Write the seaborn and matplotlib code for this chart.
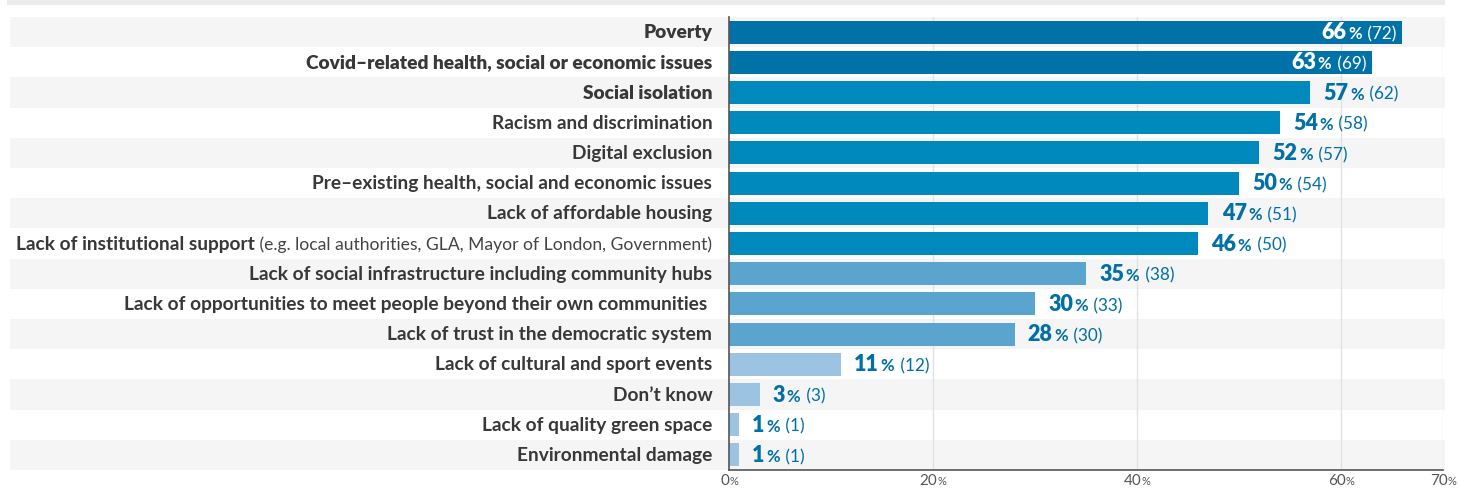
import matplotlib
matplotlib.use("Agg")
import matplotlib.pyplot as plt
import matplotlib.transforms as mtransforms
from matplotlib.patches import Rectangle
from matplotlib.offsetbox import TextArea, HPacker, AnnotationBbox
import seaborn as sns
import pandas as pd

# ---- data -------------------------------------------------------------
issues_bold = [
    "Poverty",
    "Covid\u2013related health, social or economic issues",
    "Social isolation",
    "Racism and discrimination",
    "Digital exclusion",
    "Pre\u2013existing health, social and economic issues",
    "Lack of affordable housing",
    "Lack of institutional support",
    "Lack of social infrastructure including community hubs",
    "Lack of opportunities to meet people beyond their own communities ",
    "Lack of trust in the democratic system",
    "Lack of cultural and sport events",
    "Don\u2019t know",
    "Lack of quality green space",
    "Environmental damage",
]
issues_note = ["", "", "", "", "", "", "",
               " (e.g. local authorities, GLA, Mayor of London, Government)",
               "", "", "", "", "", "", ""]
percents = [66, 63, 57, 54, 52, 50, 47, 46, 35, 30, 28, 11, 3, 1, 1]
counts = [72, 69, 62, 58, 57, 54, 51, 50, 38, 33, 30, 12, 3, 1, 1]
tiers = ["a", "a", "b", "b", "b", "b", "b", "b", "c", "c", "c", "d", "d", "d", "d"]
x_ticks = [0, 20, 40, 60, 70]

palette = {"a": "#0072a8", "b": "#0089bc", "c": "#5aa5cf", "d": "#9cc4e2"}
TEXT_BLUE = "#0070a6"
LABEL_DARK = "#383838"

df = pd.DataFrame({
    "issue": [b + n for b, n in zip(issues_bold, issues_note)],
    "pct": percents,
    "tier": tiers,
})

# ---- figure -----------------------------------------------------------
FONT = "Lato"
plt.rcParams["font.family"] = [FONT, "DejaVu Sans"]

fig = plt.figure(figsize=(14.59, 4.88), dpi=100)
W, H = 1459, 488
ax = fig.add_axes([729 / W, 1 - 470 / H, (1443 - 729) / W, (470 - 17) / H])

# thin grey strip across the very top
fig.patches.append(Rectangle((7 / W, 1 - 5 / H), (1445 - 7) / W, 5 / H,
                             transform=fig.transFigure, facecolor="#ececec",
                             edgecolor="none", zorder=0))

n = len(percents)
# alternating row bands spanning the labels and the plot
band_tf = mtransforms.blended_transform_factory(fig.transFigure, ax.transData)
for i in range(0, n, 2):
    ax.add_patch(Rectangle((10 / W, i - 0.5), (1445 - 10) / W, 1.0,
                           transform=band_tf, facecolor="#f5f5f5",
                           edgecolor="none", zorder=0, clip_on=False))

sns.barplot(data=df, x="pct", y="issue", hue="tier", palette=palette,
            dodge=False, legend=False, width=0.76, ax=ax, zorder=3,
            saturation=1)

ax.set_xlim(0, 70)
ax.set_ylim(n - 0.5, -0.5)
ax.set_facecolor("none")
ax.set_xticks(x_ticks)
ax.set_xticklabels([])
ax.set_yticks([])
ax.set_xlabel("")
ax.set_ylabel("")
ax.tick_params(length=0)
for x in x_ticks[1:]:
    ax.axvline(x, color="#e2e2e2", lw=1, zorder=1)
for s in ["top", "right"]:
    ax.spines[s].set_visible(False)
for s in ["left", "bottom"]:
    ax.spines[s].set_color("#555555")
    ax.spines[s].set_linewidth(1.2)
    ax.spines[s].set_zorder(5)

# category labels
BOLD_SIZE = 13.8
NOTE_SIZE = 12.6
for i in range(n):
    weight = "heavy" if i < 3 else "bold"
    parts = [TextArea(issues_bold[i], textprops=dict(fontsize=BOLD_SIZE, fontweight=weight,
                                                     color=LABEL_DARK, family=FONT))]
    if issues_note[i]:
        parts.append(TextArea(issues_note[i], textprops=dict(fontsize=NOTE_SIZE, fontweight="normal",
                                                             color="#444444", family=FONT)))
    box = HPacker(children=parts, align="baseline", pad=0, sep=0)
    ab = AnnotationBbox(box, (0, i), xybox=(-12, -0.5), xycoords="data",
                        boxcoords="offset points", box_alignment=(1, 0.5),
                        frameon=False, annotation_clip=False)
    ax.add_artist(ab)

# value labels: bold percent + count in brackets
for i, (p, c) in enumerate(zip(percents, counts)):
    inside = p >= 60
    col = "white" if inside else TEXT_BLUE
    parts = [
        TextArea(f"{p}", textprops=dict(fontsize=15.5, fontweight="heavy", color=col, family=FONT)),
        TextArea("%", textprops=dict(fontsize=12, fontweight="bold", color=col, family=FONT)),
        TextArea(f" ({c})", textprops=dict(fontsize=12.3, fontweight="normal", color=col, family=FONT)),
    ]
    box = HPacker(children=parts, align="baseline", pad=0, sep=1)
    if inside:
        ab = AnnotationBbox(box, (p, i), xybox=(-4, -0.5), boxcoords="offset points",
                            box_alignment=(1, 0.5), frameon=False)
    else:
        ab = AnnotationBbox(box, (p, i), xybox=(9.5, -0.5), boxcoords="offset points",
                            box_alignment=(0, 0.5), frameon=False)
    ab.set_zorder(6)
    ax.add_artist(ab)

# x tick labels with a smaller percent sign
for x in x_ticks:
    parts = [
        TextArea(f"{x}", textprops=dict(fontsize=11, color="#555555", family=FONT)),
        TextArea("%", textprops=dict(fontsize=8, color="#555555", family=FONT)),
    ]
    box = HPacker(children=parts, align="baseline", pad=0, sep=0)
    ab = AnnotationBbox(box, (x, n - 0.5), xybox=(0, -8), boxcoords="offset points",
                        box_alignment=(0.5, 0.5), frameon=False, annotation_clip=False)
    ax.add_artist(ab)

fig.savefig("out.png", dpi=100, facecolor="white")
